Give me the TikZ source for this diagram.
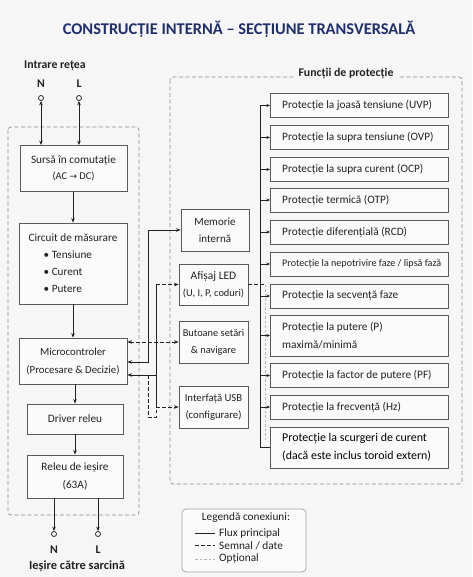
\documentclass[tikz,border=0pt]{standalone}
\usepackage{fontspec}
\setmainfont{Carlito}
\newfontfamily\symfont{DejaVu Sans}
\usetikzlibrary{arrows.meta,calc}
\definecolor{bg}{HTML}{F6F6F6}
\definecolor{boxfill}{HTML}{FAFAFA}
\definecolor{navy}{HTML}{1F2F6E}
\definecolor{bord}{HTML}{5A5A5A}
\definecolor{txt}{HTML}{222222}
\definecolor{cont}{HTML}{8C8C8C}
\definecolor{optc}{HTML}{B4B4B4}
\newcommand{\fs}[2]{\fontsize{#1}{#2}\selectfont}
\begin{document}
\begin{tikzpicture}[x=1pt,y=-1pt,
  >={Stealth[length=4.5pt,width=3.6pt]},
  box/.style={draw=bord,line width=0.9pt,fill=boxfill,text=txt,align=center,inner sep=2pt,font=\fs{11.3}{17.5}},
  pbox/.style={draw=bord,line width=0.9pt,fill=boxfill,anchor=west,minimum width=178pt,minimum height=24pt,inner sep=0pt},
  ptxt/.style={anchor=west,text=txt,align=left,inner sep=0pt,font=\fs{11.3}{17.5}},
  flow/.style={draw=txt,line width=0.9pt},
  sig/.style={draw=txt,line width=0.8pt,dash pattern=on 3.5pt off 2.5pt},
  opt/.style={draw=optc,line width=0.7pt,dash pattern=on 2.5pt off 2pt},
  container/.style={draw=cont,line width=0.7pt,dash pattern=on 4pt off 2.5pt,rounded corners=3pt},
  term/.style={circle,draw=txt,line width=0.8pt,fill=white,inner sep=0pt,minimum size=5pt},
  lbl/.style={text=txt,font=\bfseries\fs{11.8}{13},inner sep=1pt},
  legtxt/.style={anchor=west,text=txt,font=\fs{11.3}{13},inner sep=0pt},
  pbus/.style={draw=txt,line width=0.8pt,-{Stealth[length=3.5pt,width=3pt]}}
]
\fill[bg] (0,0) rectangle (472,577);
\useasboundingbox (0,0) rectangle (472,577);

% title
\node[text=navy,font=\bfseries\fs{16.4}{18}] (title) at (239,29) {CONSTRUCȚIE INTERNĂ – SECȚIUNE TRANSVERSALĂ};

% containers
\draw[container] (8,127) rectangle (139,515);
\draw[container] (170,77) rectangle (462,484);
\node[fill=bg,lbl,inner xsep=5pt] (ftitle) at (346,73) {Funcții de protecție};

% input
\node[lbl] (intrare) at (55,66) {Intrare rețea};
\node[lbl] (inNl) at (41,84) {N};
\node[lbl] (inLl) at (79,84) {L};
\node[term] (inN) at (41,98) {};
\node[term] (inL) at (79,98) {};

% left column
\node[box,minimum width=107pt,minimum height=46pt] (src) at (73.5,168.5)
  {Sursă în comutație\\[-1pt]{\fs{10.4}{12}(AC {\symfont\fs{9}{12}→} DC)}};
\node[box,minimum width=108pt,minimum height=81pt,align=left,font=\fs{11.2}{17}] (meas) at (73,263.5)
  {Circuit de măsurare\\\hspace*{15pt}• Tensiune\\\hspace*{15pt}• Curent\\\hspace*{15pt}• Putere};
\node[box,minimum width=108pt,minimum height=46pt,font=\fs{10.8}{18}] (mcu) at (73,361)
  {Microcontroler\\(Procesare \& Decizie)};
\node[box,minimum width=96pt,minimum height=30pt] (drv) at (75,419) {Driver releu};
\node[box,minimum width=96pt,minimum height=43pt,font=\fs{11.3}{18}] (rel) at (75,476.5)
  {Releu de ieșire\\(63A)};

\draw[flow,<->] (inN.south) -- (inN |- src.north);
\draw[flow,<->] (inL.south) -- (inL |- src.north);
\draw[flow,->] (src.south -| meas.north) -- (meas.north);
\draw[flow,->] (meas.south) -- (mcu.north);
\draw[flow,->] (mcu.south -| drv.north) -- (drv.north);
\draw[flow,->] (drv.south) -- (rel.north);

% output
\node[term] (outN) at (54,534) {};
\node[term] (outL) at (98,534) {};
\node[lbl] (outNl) at (54,550) {N};
\node[lbl] (outLl) at (98,550) {L};
\node[lbl,font=\bfseries\fs{12.4}{14}] (iesire) at (77,566) {Ieșire către sarcină};
\draw[flow,->] (outN |- rel.south) -- (outN.north);
\draw[flow,->] (outL |- rel.south) -- (outL.north);

% middle column
\node[box,minimum width=68pt,minimum height=42pt,font=\fs{11}{17}] (mem) at (215,230) {Memorie\\internă};
\node[box,minimum width=69pt,minimum height=41pt,font=\fs{11.5}{17}] (led) at (213.5,284.5)
  {Afișaj LED\\{\fs{10.4}{12}(U, I, P, coduri)}};
\node[box,minimum width=69pt,minimum height=42pt,font=\fs{10.4}{17}] (btn) at (213.5,342) {Butoane setări\\\& navigare};
\node[box,minimum width=69pt,minimum height=42pt,font=\fs{10.7}{17}] (usb) at (213.5,407) {Interfață USB\\(configurare)};

\coordinate (jm) at (148,362);
\coordinate (ju) at (156,375);
\coordinate (jl) at (148,417);
\coordinate (jr) at (156,417);
\draw[flow,<->] (mcu.east |- jm) -- (jm) |- (mem.west);
\draw[sig,<->] (mcu.east |- btn.west) -- (btn.west);
\draw[flow,->] (ju) -- (mcu.east |- ju);
\draw[flow] (ju |- led.west) -- (ju |- usb.west);
\draw[sig,->] (ju |- led.west) -- (led.west);
\draw[sig,->] (ju |- usb.west) -- (usb.west);
\draw[sig,line width=0.6pt] (jm |- ju) -- (jl) -- (jr) -- (jr |- usb.west);

% protection boxes
\node[pbox] (p1) at (270,105.5) {};
\node[pbox] (p2) at (270,137.5) {};
\node[pbox] (p3) at (270,169.5) {};
\node[pbox] (p4) at (270,200) {};
\node[pbox] (p5) at (270,232) {};
\node[pbox] (p6) at (270,264) {};
\node[pbox] (p7) at (270,296) {};
\node[pbox,minimum height=41pt] (p8) at (270,335.5) {};
\node[pbox] (p9) at (270,375.5) {};
\node[pbox] (p10) at (270,407) {};
\node[pbox,minimum height=41pt] (p11) at (270,447.5) {};

\node[ptxt] (p1t) at (282,105.5) {Protecție la joasă tensiune (UVP)};
\node[ptxt] (p2t) at (282,137.5) {Protecție la supra tensiune (OVP)};
\node[ptxt] (p3t) at (282,169.5) {Protecție la supra curent (OCP)};
\node[ptxt] (p4t) at (282,200) {Protecție termică (OTP)};
\node[ptxt] (p5t) at (282,232) {Protecție diferențială (RCD)};
\node[ptxt,font=\fs{10.1}{12}] (p6t) at (282,264) {Protecție la nepotrivire faze / lipsă fază};
\node[ptxt] (p7t) at (282,296) {Protecție la secvență faze};
\node[ptxt] (p8t) at (282,335.5) {Protecție la putere (P)\\maximă/minimă};
\node[ptxt] (p9t) at (282,375.5) {Protecție la factor de putere (PF)};
\node[ptxt] (p10t) at (282,407) {Protecție la frecvență (Hz)};
\node[ptxt,text=black,font=\fs{11.9}{18}] (p11t) at (282,447.5) {Protecție la scurgeri de curent\\(dacă este inclus toroid extern)};

\coordinate (bus) at (260,105.5);
\coordinate (optx) at (265,440);
\draw[opt] (optx |- led.east) -- (optx);
\draw[sig] (led.east) -- (optx |- led.east);
\draw[flow] (bus) -- (bus |- p11.west) -- (p11.west);
\foreach \n in {p1,p2,p3,p4,p5,p6,p7,p8,p9,p10}
  \draw[pbus] (bus |- \n.west) -- (\n.west);

% legend
\node[draw=cont!80,line width=0.7pt,rounded corners=4pt,fill=boxfill,minimum width=124pt,minimum height=63pt] (leg) at (244,540.5) {};
\node[text=txt,font=\fs{11.3}{13}] (legt) at (246,518) {Legendă conexiuni:};
\coordinate (l1a) at (195,533); \coordinate (l1b) at (215,533);
\coordinate (l2a) at (195,545.5); \coordinate (l2b) at (215,545.5);
\coordinate (l3a) at (195,559); \coordinate (l3b) at (215,559);
\draw[flow,line width=0.7pt] (l1a) -- (l1b);
\draw[sig,line width=0.7pt] (l2a) -- (l2b);
\draw[opt] (l3a) -- (l3b);
\node[legtxt] (leg1) at (219,533) {Flux principal};
\node[legtxt] (leg2) at (219,545.5) {Semnal / date};
\node[legtxt] (leg3) at (219,559) {Opțional};
\end{tikzpicture}
\end{document}
